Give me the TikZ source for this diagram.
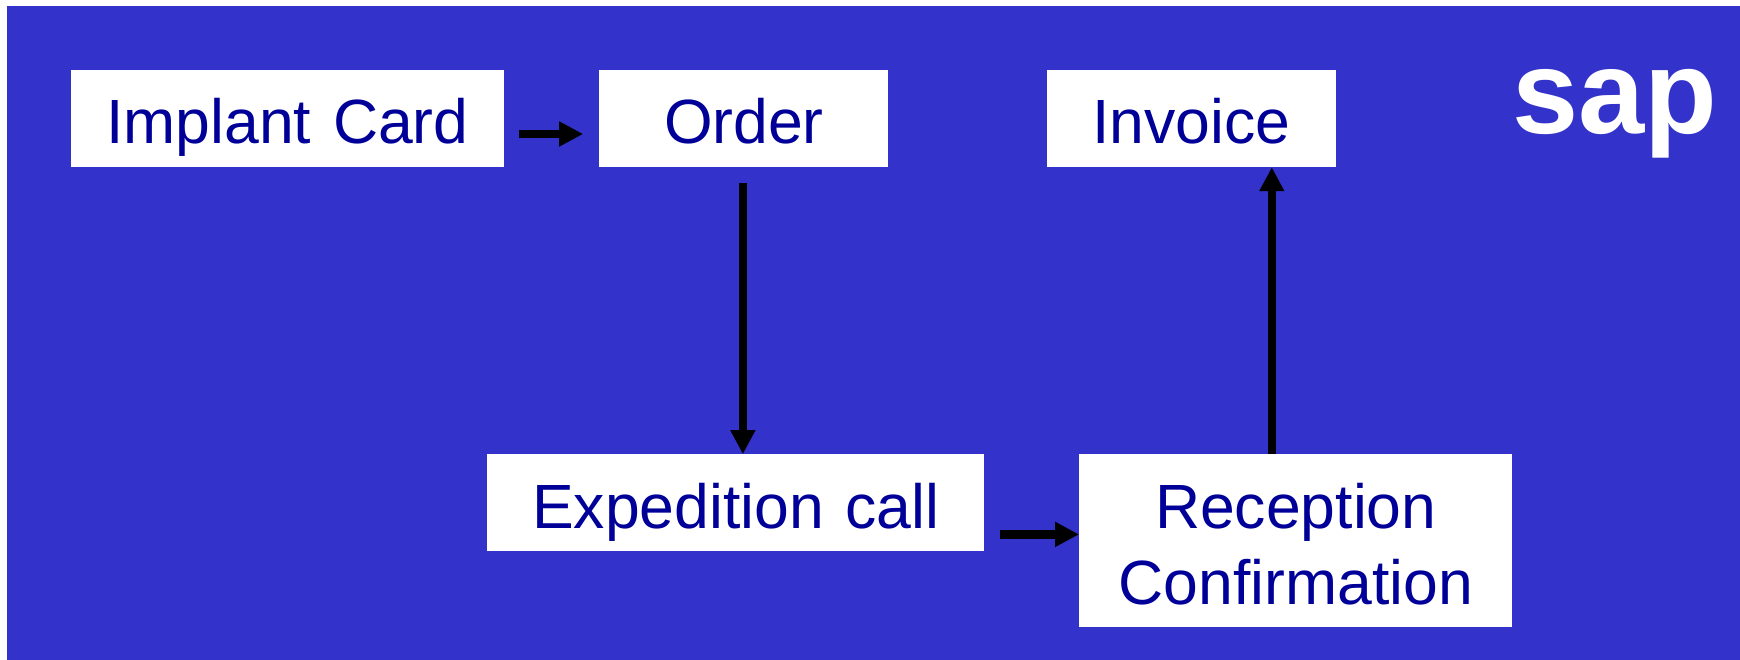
\documentclass[tikz,border=0pt]{standalone}
\usepackage{fontspec}
\setmainfont[WordSpace=1.25]{Liberation Sans}
\usetikzlibrary{arrows.meta, positioning}
\definecolor{slidebg}{HTML}{3333CC}
\definecolor{boxtext}{HTML}{000099}

\begin{document}
\begin{tikzpicture}[
    x=1pt, y=1pt,
    node distance=95pt,
    every node/.style={inner sep=0pt},
    box/.style={fill=white, text=boxtext, align=center, minimum height=97pt,
        font=\fontsize{62.5}{76}\selectfont, text height=51pt, text depth=0pt},
    every edge/.append style={line width=7.5pt, >={Triangle[length=24pt, width=23.5pt]}}
]

   % Background
   \useasboundingbox (0,0) rectangle (1740,660);
   \fill[slidebg] (7,0) rectangle (1740,654);

   % Boxes
   \node[box, minimum width=433pt] (impl) at (287.5,541.5) {Implant Card};
   \node[box, minimum width=289pt] (order) [right=of impl] {Order};
   \node[box, minimum width=289.5pt] (invoice) [right=158pt of order] {Invoice};
   \node[box, minimum width=497pt] (exped) [below right=287pt and -17pt of impl] {Expedition call};
   \node[box, minimum width=433pt, minimum height=173pt, text height=127pt] (recep)
        [below right=0pt and 94.5pt of exped.north east] {Reception\\Confirmation};
   \node[anchor=base, text=white, font=\fontsize{119}{119}\selectfont\bfseries] (sap) at (1615,526) {sap};

   % Arrows
   \path[->]
   ([yshift=-15.5pt]impl.east) edge [line width=8.5pt, shorten <=15pt, shorten >=16pt] ([yshift=-15.5pt]order.west)
   ([xshift=-1pt]order.south) edge [shorten <=16pt] ([xshift=-1pt]order.south |- exped.north)
   ([yshift=-31.5pt]exped.east) edge [line width=8.5pt, shorten <=15pt] ([yshift=-31.5pt]exped.east -| recep.west)
   ([xshift=-24pt]recep.north) edge ([xshift=-24pt]recep.north |- invoice.south);
\end{tikzpicture}
\end{document}
